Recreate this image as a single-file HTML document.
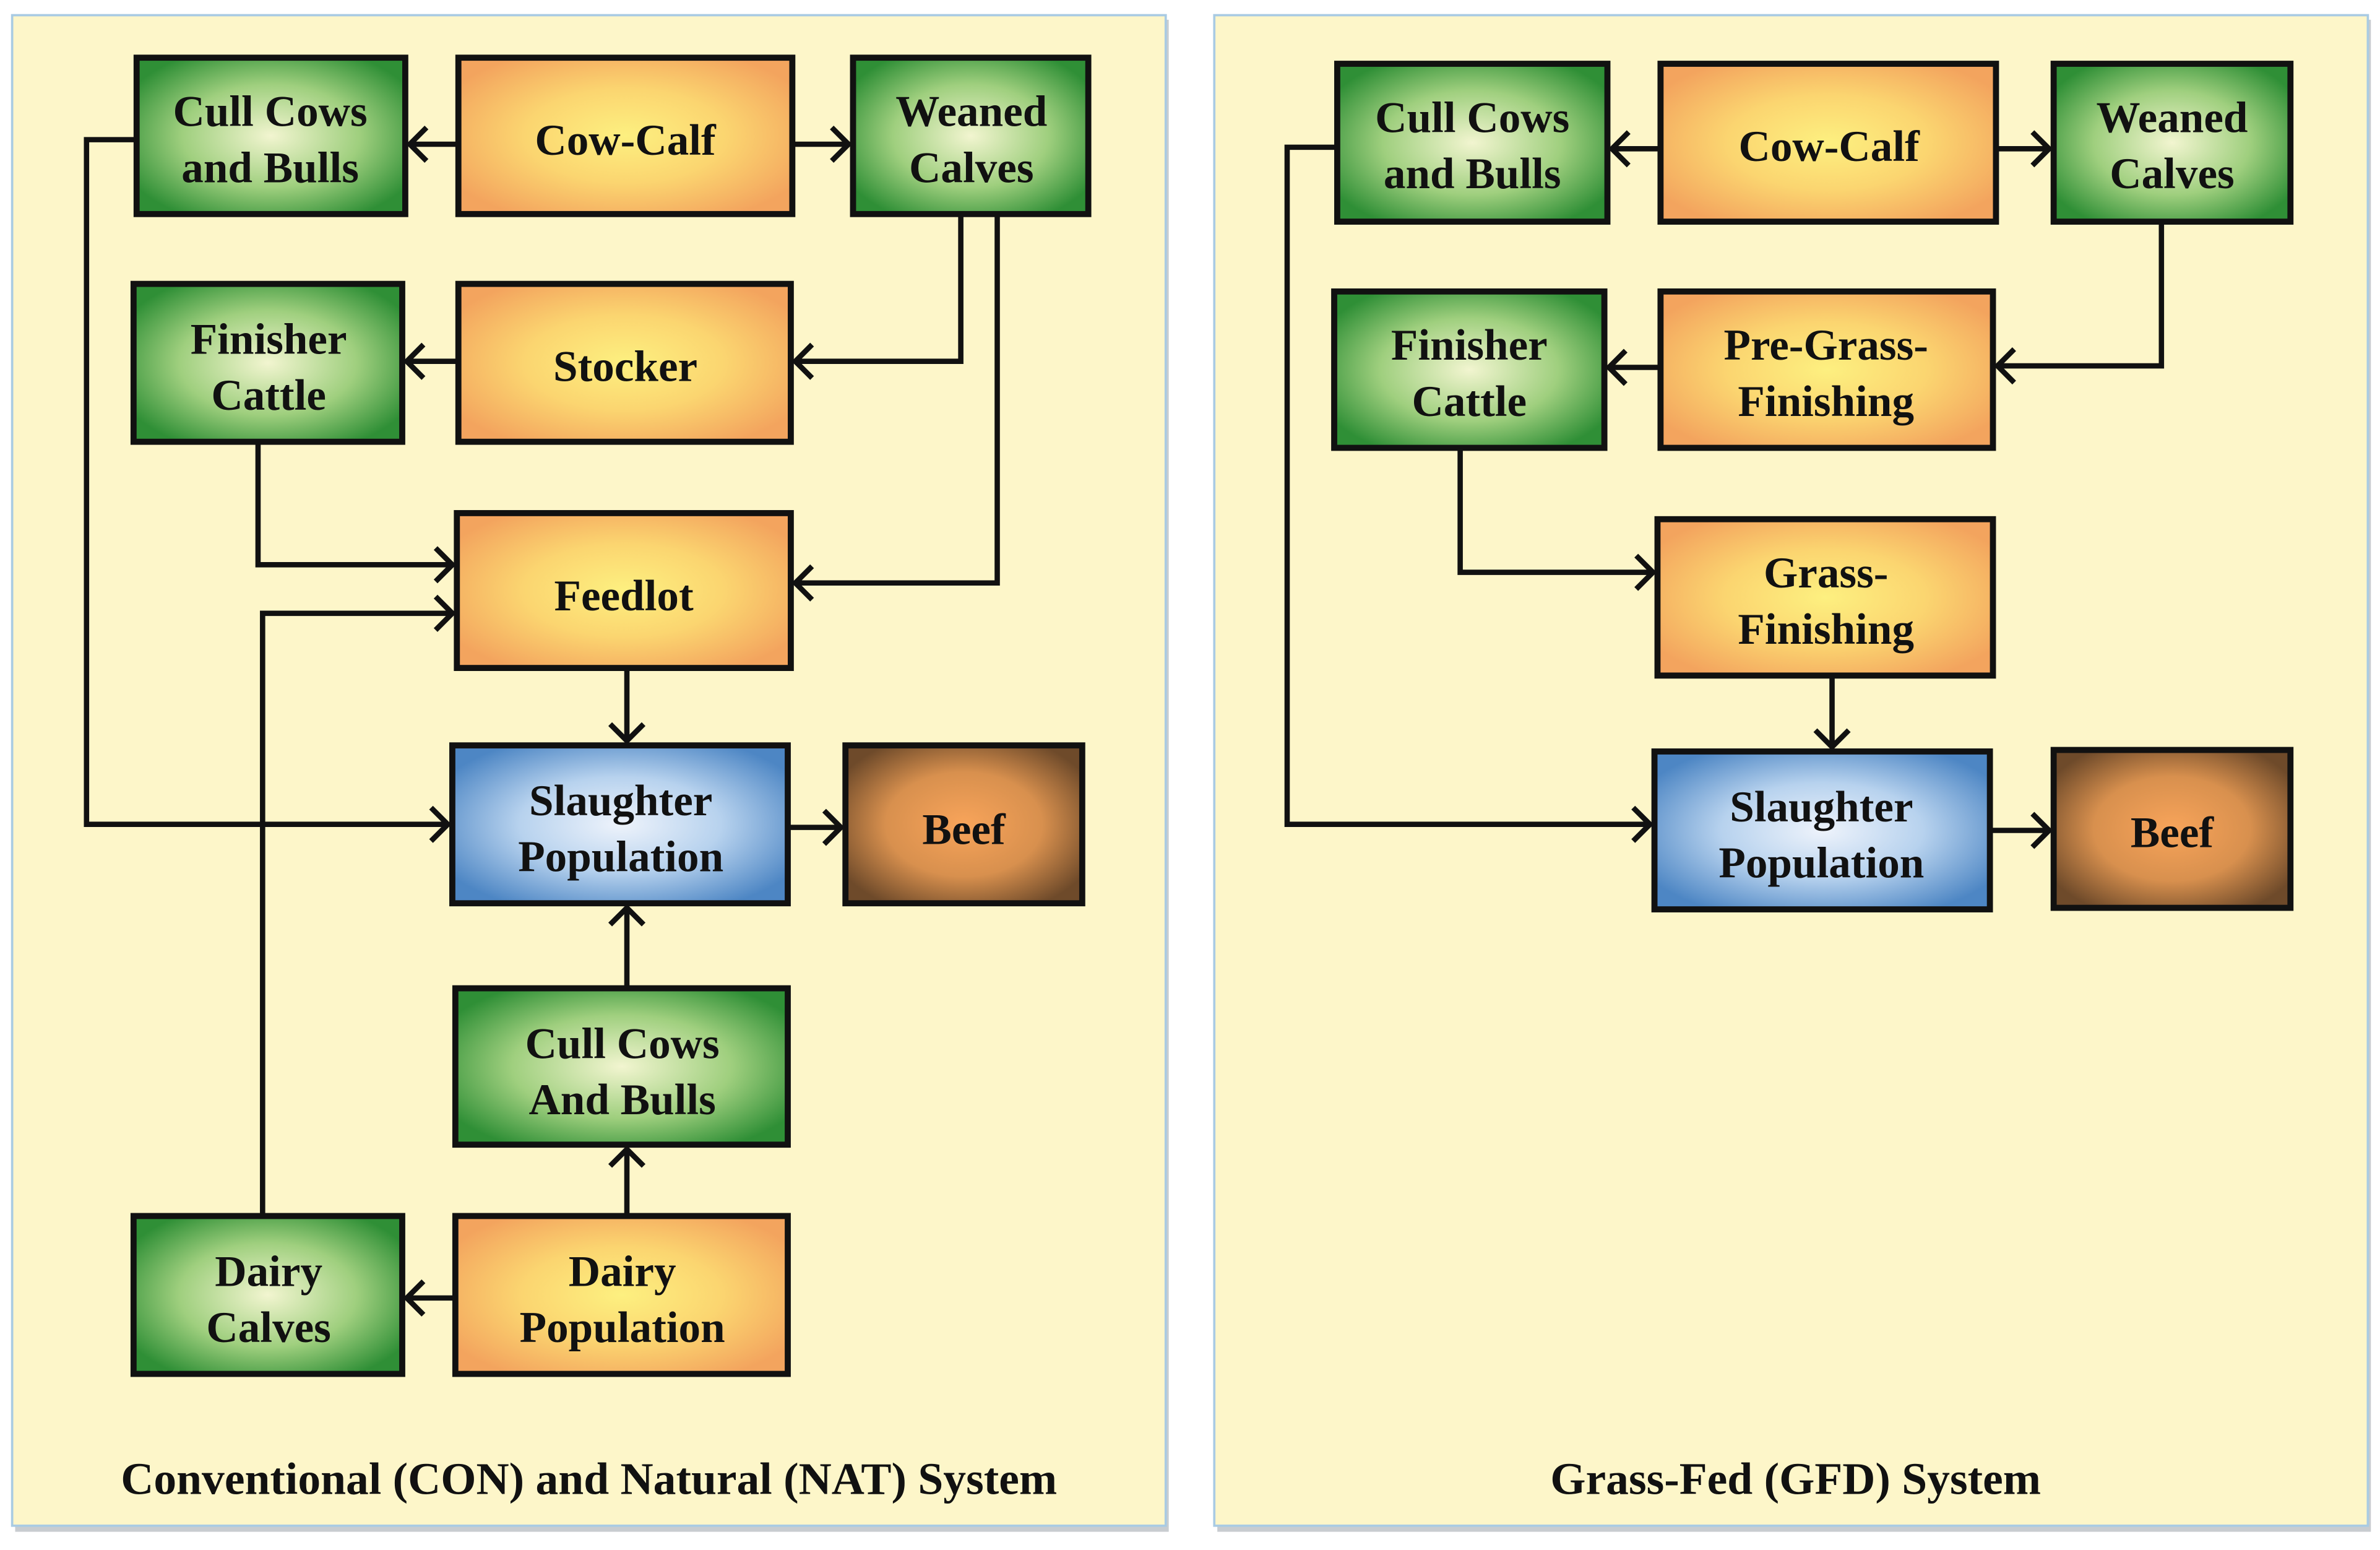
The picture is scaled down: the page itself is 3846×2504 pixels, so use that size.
<!DOCTYPE html>
<html><head><meta charset="utf-8"><style>
html,body{margin:0;padding:0;background:#fff;}
svg{display:block;}
text{font-family:"Liberation Serif",serif;font-weight:bold;fill:#111;text-anchor:middle;}
</style></head><body>
<svg width="3846" height="2504" viewBox="0 0 1568 1021" preserveAspectRatio="none" xmlns="http://www.w3.org/2000/svg">
<defs>
<radialGradient id="g" cx="50%" cy="50%" r="60%"><stop offset="0" stop-color="#f2f5d0"/><stop offset="0.55" stop-color="#9fcf7e"/><stop offset="1" stop-color="#2f8f36"/></radialGradient>
<radialGradient id="o" cx="50%" cy="50%" r="60%"><stop offset="0" stop-color="#fdf080"/><stop offset="0.5" stop-color="#fbd570"/><stop offset="1" stop-color="#f3a45e"/></radialGradient>
<radialGradient id="b" cx="50%" cy="50%" r="60%"><stop offset="0" stop-color="#eef3fb"/><stop offset="0.5" stop-color="#b7d2ee"/><stop offset="1" stop-color="#4d86c4"/></radialGradient>
<radialGradient id="r" cx="50%" cy="50%" r="60%"><stop offset="0" stop-color="#f8a45a"/><stop offset="0.55" stop-color="#d8904e"/><stop offset="1" stop-color="#6e4a2a"/></radialGradient>
</defs>
<rect x="0" y="0" width="1568" height="1021" fill="#fff"/>
<rect x="10" y="13" width="760" height="996" fill="#c8ccd0"/>
<rect x="8" y="10" width="760" height="995" fill="#fdf6c9" stroke="#a9cbe3" stroke-width="1.5"/>
<rect x="802" y="13" width="760" height="996" fill="#c8ccd0"/>
<rect x="800" y="10" width="760" height="995" fill="#fdf6c9" stroke="#a9cbe3" stroke-width="1.5"/>

<g stroke="#111" stroke-width="3.5" fill="none" stroke-linejoin="miter">
<!-- left connectors -->
<path d="M302,95 H270 M281,84 L270,95 L281,106"/>
<path d="M522,95 H559 M548,84 L559,95 L548,106"/>
<path d="M633,141 V238 H524 M535,227 L524,238 L535,249"/>
<path d="M657,141 V384 H524 M535,373 L524,384 L535,395"/>
<path d="M302,238 H268 M279,227 L268,238 L279,249"/>
<path d="M170,291 V372 H298 M287,361 L298,372 L287,383"/>
<path d="M173,801 V404 H298 M287,393 L298,404 L287,415"/>
<path d="M90,92 H57 V543 H295 M284,532 L295,543 L284,554"/>
<path d="M413,440 V488 M402,477 L413,488 L424,477"/>
<path d="M519,545 H554 M543,534 L554,545 L543,556"/>
<path d="M413,651 V598 M402,609 L413,598 L424,609"/>
<path d="M413,801 V757 M402,768 L413,757 L424,768"/>
<path d="M300,855 H268 M279,844 L268,855 L279,866"/>
<!-- right connectors -->
<path d="M1094,98 H1062 M1073,87 L1062,98 L1073,109"/>
<path d="M1315,98 H1350 M1339,87 L1350,98 L1339,109"/>
<path d="M1424,146 V241 H1316 M1327,230 L1316,241 L1327,252"/>
<path d="M1094,242 H1060 M1071,231 L1060,242 L1071,253"/>
<path d="M962,295 V377 H1089 M1078,366 L1089,377 L1078,388"/>
<path d="M1207,445 V492 M1196,481 L1207,492 L1218,481"/>
<path d="M881,97 H848 V543 H1087 M1076,532 L1087,543 L1076,554"/>
<path d="M1311,547 H1350 M1339,536 L1350,547 L1339,558"/>
</g>

<g stroke="#111" stroke-width="4">
<rect x="90" y="38" width="177" height="103" fill="url(#g)"/>
<rect x="302" y="38" width="220" height="103" fill="url(#o)"/>
<rect x="562" y="38" width="155" height="103" fill="url(#g)"/>
<rect x="88" y="187" width="177" height="104" fill="url(#g)"/>
<rect x="302" y="187" width="219" height="104" fill="url(#o)"/>
<rect x="301" y="338" width="220" height="102" fill="url(#o)"/>
<rect x="298" y="491" width="221" height="104" fill="url(#b)"/>
<rect x="557" y="491" width="156" height="104" fill="url(#r)"/>
<rect x="300" y="651" width="219" height="103" fill="url(#g)"/>
<rect x="88" y="801" width="177" height="104" fill="url(#g)"/>
<rect x="300" y="801" width="219" height="104" fill="url(#o)"/>

<rect x="881" y="42" width="178" height="104" fill="url(#g)"/>
<rect x="1094" y="42" width="221" height="104" fill="url(#o)"/>
<rect x="1353" y="42" width="156" height="104" fill="url(#g)"/>
<rect x="879" y="192" width="178" height="103" fill="url(#g)"/>
<rect x="1094" y="192" width="219" height="103" fill="url(#o)"/>
<rect x="1092" y="342" width="221" height="103" fill="url(#o)"/>
<rect x="1090" y="495" width="221" height="104" fill="url(#b)"/>
<rect x="1353" y="494" width="156" height="104" fill="url(#r)"/>
</g>

<g font-size="29">
<text x="178" y="83">Cull Cows</text><text x="178" y="120">and Bulls</text>
<text x="412" y="102">Cow-Calf</text>
<text x="640" y="83">Weaned</text><text x="640" y="120">Calves</text>
<text x="177" y="233">Finisher</text><text x="177" y="270">Cattle</text>
<text x="412" y="251">Stocker</text>
<text x="411" y="402">Feedlot</text>
<text x="409" y="537">Slaughter</text><text x="409" y="574">Population</text>
<text x="635" y="556">Beef</text>
<text x="410" y="697">Cull Cows</text><text x="410" y="734">And Bulls</text>
<text x="177" y="847">Dairy</text><text x="177" y="884">Calves</text>
<text x="410" y="847">Dairy</text><text x="410" y="884">Population</text>

<text x="970" y="87">Cull Cows</text><text x="970" y="124">and Bulls</text>
<text x="1205" y="106">Cow-Calf</text>
<text x="1431" y="87">Weaned</text><text x="1431" y="124">Calves</text>
<text x="968" y="237">Finisher</text><text x="968" y="274">Cattle</text>
<text x="1203" y="237">Pre-Grass-</text><text x="1203" y="274">Finishing</text>
<text x="1203" y="387">Grass-</text><text x="1203" y="424">Finishing</text>
<text x="1200" y="541">Slaughter</text><text x="1200" y="578">Population</text>
<text x="1431" y="558">Beef</text>
</g>
<g font-size="30">
<text x="388" y="984">Conventional (CON) and Natural (NAT) System</text>
<text x="1183" y="984">Grass-Fed (GFD) System</text>
</g>
</svg>
</body></html>
